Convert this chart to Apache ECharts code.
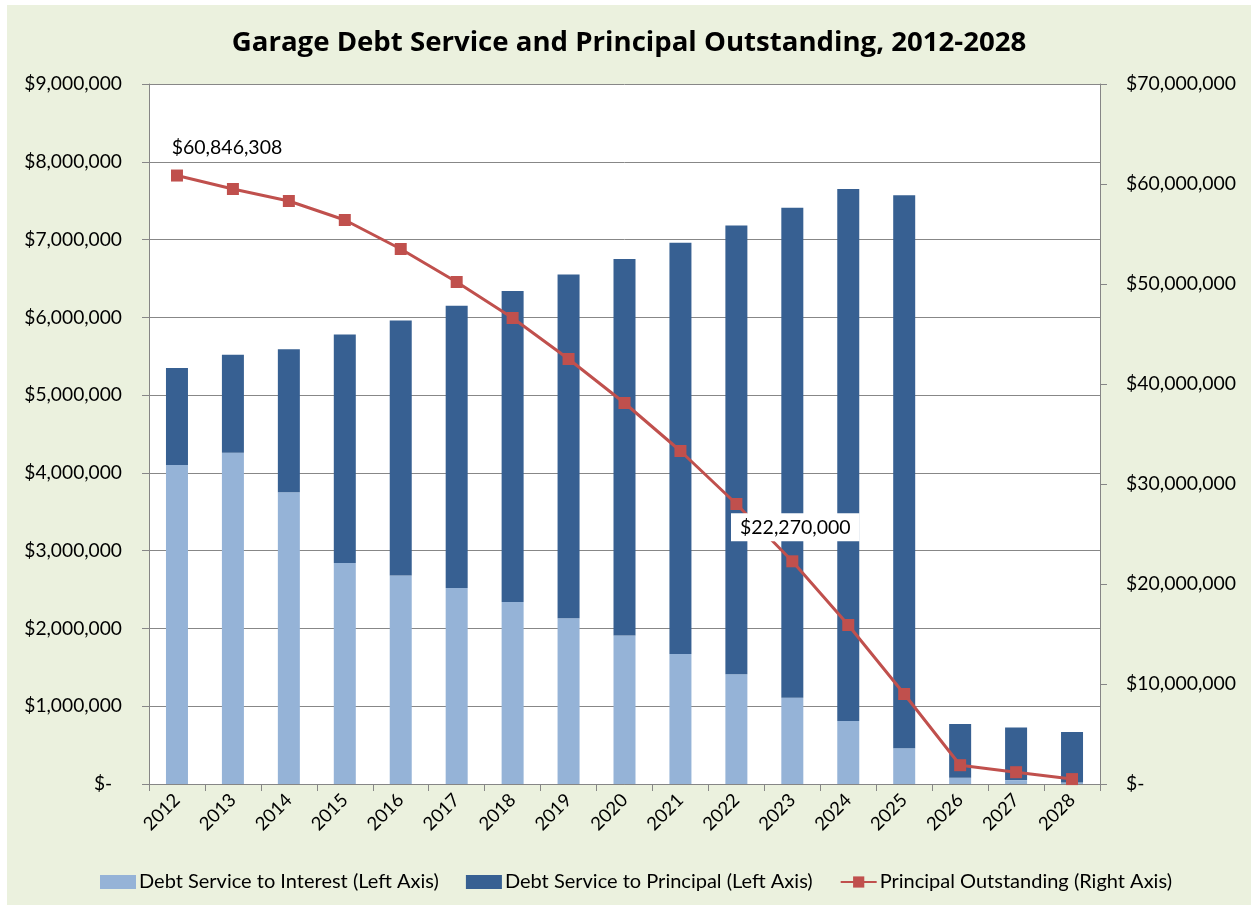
<!DOCTYPE html>
<html>
<head>
<meta charset="utf-8">
<script src="https://cdn.jsdelivr.net/npm/echarts@6/dist/echarts.min.js"></script>
<style>
  html, body { margin: 0; padding: 0; background: #ffffff; }
  #chart { position: absolute; left: 7px; top: 5px; width: 1244px; height: 900px; background: #EBF1DE; }
</style>
</head>
<body>
<div id="chart"></div>
<script>
const years = ['2012','2013','2014','2015','2016','2017','2018','2019','2020','2021','2022','2023','2024','2025','2026','2027','2028'];
const interest = [4100000, 4260000, 3750000, 2840000, 2680000, 2520000, 2340000, 2130000, 1910000, 1670000, 1410000, 1110000, 810000, 460000, 80000, 50000, 20000];
const principal = [1250000, 1260000, 1840000, 2940000, 3280000, 3630000, 4000000, 4420000, 4840000, 5290000, 5770000, 6300000, 6840000, 7110000, 690000, 675000, 650000];
const outstanding = [60846308, 59500000, 58300000, 56400000, 53500000, 50200000, 46600000, 42500000, 38100000, 33300000, 28000000, 22270000, 15900000, 9000000, 1880000, 1180000, 490000];
const seriesNames = ['Debt Service to Interest (Left Axis)', 'Debt Service to Principal (Left Axis)', 'Principal Outstanding (Right Axis)'];
const titleText = 'Garage Debt Service and Principal Outstanding, 2012-2028';

const FONT = 'Lato';
function money(v) {
  if (v === 0) return '$-  ';
  return '$' + Math.round(v).toLocaleString('en-US');
}
function moneyR(v) {
  if (v === 0) return '$-';
  return '$' + Math.round(v).toLocaleString('en-US');
}

const lineData = outstanding.map(function (v, i) {
  if (i === 0) {
    return { value: v, label: { show: true, position: 'top', offset: [50, -3], formatter: function (p) { return money(p.value); } } };
  }
  if (i === 11) {
    return { value: v, label: { show: true, position: 'top', offset: [3, -9], formatter: function (p) { return money(p.value); } } };
  }
  return v;
});

const chart = echarts.init(document.getElementById('chart'));
chart.setOption({
  animation: false,
  backgroundColor: '#EBF1DE',
  textStyle: { fontFamily: FONT },
  title: {
    text: titleText,
    left: 'center',
    top: 19,
    textStyle: { fontFamily: 'Open Sans', fontSize: 27.6, fontWeight: 'bold', color: '#000' }
  },
  grid: {
    left: 142, right: 151, top: 79, bottom: 121,
    show: true, backgroundColor: '#ffffff', borderWidth: 0
  },
  legend: {
    left: 88,
    top: 862,
    itemWidth: 36,
    itemHeight: 14,
    itemGap: 27,
    textStyle: { fontFamily: FONT, fontSize: 20, color: '#000', padding: [0, 0, 0, -2] },
    data: [
      { name: seriesNames[0], icon: 'rect' },
      { name: seriesNames[1], icon: 'rect' },
      { name: seriesNames[2] }
    ]
  },
  xAxis: {
    type: 'category',
    data: years,
    boundaryGap: true,
    axisLine: { lineStyle: { color: '#868686', width: 1 } },
    axisTick: { show: true, length: 7, lineStyle: { color: '#868686' } },
    axisLabel: { rotate: 45, margin: 13, fontSize: 18.5, color: '#000', fontFamily: FONT }
  },
  yAxis: [
    {
      type: 'value', min: 0, max: 9000000, interval: 1000000,
      axisLine: { show: true, lineStyle: { color: '#868686' } },
      axisTick: { show: true, length: 7, lineStyle: { color: '#868686' } },
      splitLine: { show: true, lineStyle: { color: '#878787', width: 1 } },
      axisLabel: { margin: 27, fontSize: 19.2, color: '#000', fontFamily: FONT, formatter: money }
    },
    {
      type: 'value', min: 0, max: 70000000, interval: 10000000,
      axisLine: { show: true, lineStyle: { color: '#868686' } },
      axisTick: { show: true, length: 7, lineStyle: { color: '#868686' } },
      splitLine: { show: false },
      axisLabel: { margin: 26, fontSize: 19.4, color: '#000', fontFamily: FONT, formatter: moneyR }
    }
  ],
  series: [
    {
      name: seriesNames[0], type: 'bar', stack: 'ds', barWidth: 22,
      itemStyle: { color: '#95B3D7' },
      data: interest
    },
    {
      name: seriesNames[1], type: 'bar', stack: 'ds', barWidth: 22,
      itemStyle: { color: '#376092' },
      data: principal
    },
    {
      name: seriesNames[2], type: 'line', yAxisIndex: 1, z: 5,
      symbol: 'rect', symbolSize: 12,
      lineStyle: { color: '#C0504D', width: 3 },
      itemStyle: { color: '#C0504D' },
      label: {
        show: false,
        color: '#000', fontSize: 19.5, fontFamily: FONT,
        backgroundColor: '#ffffff', padding: [4, 9, 4, 9]
      },
      data: lineData
    }
  ]
});
</script>
</body>
</html>
